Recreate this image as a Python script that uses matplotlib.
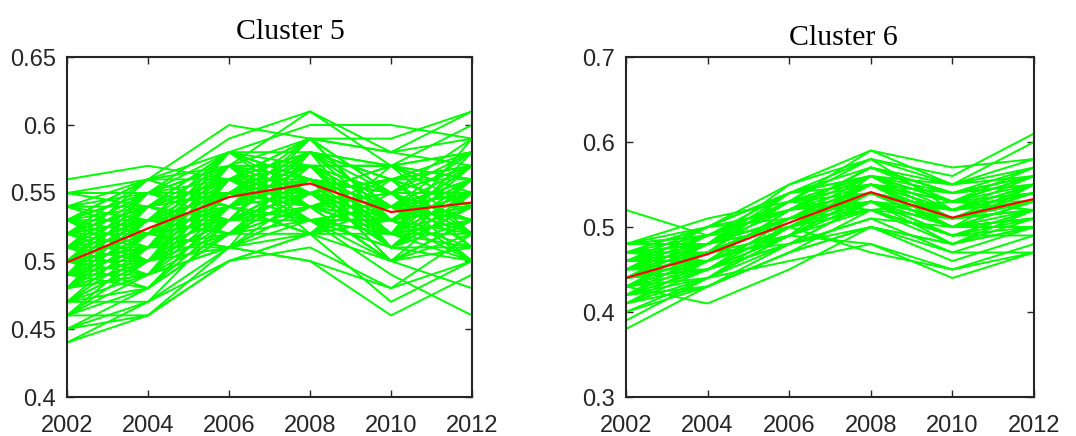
import numpy as np
import matplotlib
matplotlib.use("Agg")
import matplotlib.pyplot as plt

# years on the x axis
years = [2002, 2004, 2006, 2008, 2010, 2012]

# cluster 5 members (values in hundredths)
cluster5 = [
    [56, 57, 56, 58, 57, 58],
    [55, 56, 60, 59, 58, 59],
    [55, 55, 59, 61, 57, 60],
    [54, 56, 58, 60, 60, 59],
    [53, 55, 57, 61, 58, 61],
    [52, 54, 56, 59, 59, 61],
    [44, 46, 50, 52, 50, 48],
    [44, 47, 51, 53, 49, 46],
    [45, 46, 50, 52, 47, 50],
    [46, 46, 51, 50, 46, 49],
    [47, 47, 50, 51, 48, 52],
    [48, 49, 51, 50, 48, 50],
    [50, 53, 55, 56, 54, 55],
    [49, 52, 54, 57, 52, 53],
    [51, 50, 53, 55, 56, 54],
    [48, 51, 56, 54, 53, 57],
    [52, 55, 53, 58, 55, 52],
    [47, 50, 52, 55, 51, 56],
    [53, 51, 57, 53, 54, 50],
    [50, 54, 55, 59, 53, 55],
    [49, 49, 54, 52, 55, 53],
    [51, 53, 58, 56, 52, 56],
    [48, 52, 51, 54, 50, 51],
    [54, 52, 56, 57, 57, 55],
    [50, 50, 52, 53, 53, 57],
    [52, 54, 57, 55, 51, 54],
    [47, 51, 53, 56, 55, 52],
    [49, 55, 55, 54, 56, 58],
    [51, 49, 51, 58, 54, 53],
    [53, 56, 54, 52, 52, 56],
    [48, 50, 57, 57, 53, 50],
    [50, 51, 56, 55, 57, 55],
    [46, 49, 53, 54, 52, 54],
    [52, 53, 52, 56, 50, 52],
    [49, 54, 58, 58, 56, 57],
    [51, 52, 55, 53, 53, 51],
    [47, 48, 54, 55, 51, 53],
    [53, 55, 56, 59, 55, 58],
    [50, 52, 51, 52, 54, 55],
    [48, 53, 55, 57, 52, 50],
    [54, 54, 53, 55, 56, 57],
    [49, 51, 57, 54, 50, 53],
    [51, 55, 54, 56, 53, 56],
    [50, 49, 52, 57, 55, 51],
    [52, 50, 56, 53, 51, 55],
    [48, 54, 53, 58, 57, 54],
    [46, 50, 55, 56, 54, 52],
    [51, 51, 58, 55, 52, 57],
    [53, 53, 52, 54, 55, 53],
    [49, 50, 54, 59, 53, 56],
    [50, 55, 57, 52, 56, 54],
    [47, 52, 53, 53, 50, 55],
    [52, 51, 55, 58, 54, 58],
    [48, 49, 56, 56, 51, 50],
    [51, 54, 52, 57, 57, 52],
    [50, 53, 58, 54, 55, 57],
    [53, 50, 51, 55, 53, 55],
    [49, 53, 56, 53, 52, 53],
    [45, 48, 52, 55, 51, 51],
    [52, 56, 54, 57, 54, 54],
    [50, 48, 54, 58, 56, 56],
    [48, 51, 52, 52, 53, 54],
    [54, 53, 57, 56, 50, 53],
    [51, 50, 53, 59, 55, 55],
    [46, 51, 54, 53, 54, 56],
    [49, 52, 57, 55, 56, 51],
    [47, 49, 55, 57, 52, 52],
    [55, 54, 55, 55, 53, 57],
    [50, 51, 51, 54, 52, 59],
    [52, 52, 58, 56, 55, 50],
    [48, 54, 56, 58, 51, 54],
    [45, 47, 53, 54, 53, 55],
    [53, 52, 54, 52, 57, 58],
    [51, 56, 56, 55, 54, 53],
    [50, 50, 55, 57, 51, 56],
    [49, 48, 53, 56, 54, 57],
    [50, 52, 53, 55, 57, 56],
    [52, 55, 55, 54, 52, 55],
    [49, 51, 55, 58, 53, 52],
    [51, 53, 54, 57, 55, 57],
    [53, 54, 58, 56, 53, 55],
    [48, 50, 53, 55, 54, 53],
    [50, 54, 56, 55, 52, 58],
    [54, 55, 55, 58, 56, 54],
    [47, 50, 54, 53, 52, 55],
    [51, 52, 57, 57, 54, 56],
    [49, 53, 52, 55, 56, 52],
    [52, 54, 56, 54, 55, 59],
    [50, 51, 54, 56, 53, 54],
    [46, 48, 52, 54, 50, 53],
    [53, 56, 57, 59, 58, 57],
    [51, 53, 55, 53, 51, 54],
    [48, 52, 54, 56, 55, 55],
    [50, 55, 58, 57, 57, 56],
    [52, 53, 53, 56, 52, 51],
    [49, 50, 56, 54, 54, 56],
]
center5 = [0.499, 0.524, 0.547, 0.557, 0.536, 0.543]

# cluster 6 members (hundredths)
cluster6 = [
    [52, 49, 50, 54, 52, 53],
    [38, 43, 47, 50, 46, 49],
    [39, 44, 46, 48, 45, 48],
    [43, 41, 45, 50, 48, 50],
    [48, 51, 53, 56, 55, 56],
    [47, 50, 55, 59, 57, 58],
    [46, 48, 55, 58, 56, 61],
    [45, 49, 53, 59, 55, 60],
    [41, 46, 50, 47, 45, 47],
    [42, 45, 49, 48, 44, 47],
    [44, 45, 48, 50, 47, 47],
    [44, 47, 51, 54, 51, 53],
    [45, 48, 50, 55, 52, 55],
    [43, 46, 52, 53, 50, 52],
    [46, 47, 49, 56, 53, 54],
    [42, 45, 51, 52, 49, 51],
    [47, 49, 52, 57, 54, 57],
    [44, 46, 50, 55, 50, 50],
    [43, 48, 53, 54, 52, 56],
    [45, 47, 48, 53, 49, 52],
    [41, 44, 49, 52, 51, 54],
    [46, 49, 54, 56, 53, 53],
    [44, 48, 51, 53, 48, 51],
    [42, 46, 50, 54, 52, 55],
    [47, 48, 53, 55, 51, 52],
    [43, 45, 48, 51, 50, 53],
    [45, 46, 52, 57, 53, 56],
    [40, 44, 49, 53, 49, 52],
    [46, 50, 51, 55, 54, 55],
    [44, 47, 54, 58, 52, 54],
    [42, 43, 47, 52, 48, 50],
    [48, 49, 52, 54, 50, 51],
    [43, 47, 51, 56, 51, 55],
    [45, 48, 53, 52, 49, 49],
    [41, 45, 50, 55, 53, 57],
    [46, 46, 50, 53, 51, 53],
    [44, 49, 52, 57, 55, 58],
    [42, 44, 48, 51, 47, 50],
    [47, 47, 51, 54, 52, 54],
    [40, 43, 47, 50, 48, 52],
    [43, 46, 49, 54, 50, 53],
    [45, 50, 54, 55, 51, 52],
    [44, 45, 50, 52, 53, 56],
    [48, 48, 54, 57, 54, 55],
    [47, 48, 51, 55, 52, 53],
    [46, 47, 53, 56, 54, 56],
    [44, 46, 49, 53, 51, 52],
    [48, 49, 53, 58, 55, 57],
    [45, 47, 51, 54, 50, 51],
    [43, 44, 50, 53, 52, 54],
    [47, 50, 52, 56, 53, 55],
    [46, 48, 50, 52, 49, 50],
    [42, 47, 51, 55, 51, 53],
    [48, 50, 54, 56, 52, 54],
    [45, 45, 49, 54, 50, 55],
    [44, 48, 52, 55, 53, 52],
    [41, 43, 48, 53, 50, 51],
    [47, 46, 52, 57, 54, 56],
]
center6 = [0.440, 0.468, 0.505, 0.541, 0.511, 0.533]

titles = ["Cluster 5", "Cluster 6"]
ylims = [(0.4, 0.65), (0.3, 0.7)]
yticks = [[0.4, 0.45, 0.5, 0.55, 0.6, 0.65], [0.3, 0.4, 0.5, 0.6, 0.7]]
ylabels = [["0.4", "0.45", "0.5", "0.55", "0.6", "0.65"],
           ["0.3", "0.4", "0.5", "0.6", "0.7"]]

W, H = 1076, 436
fig = plt.figure(figsize=(W / 100, H / 100), dpi=100)

# axes boxes in pixels: left, right, top, bottom
boxes = [(67, 472, 57, 397), (626, 1034, 57, 397)]
# title centre x and baseline y in pixels
title_pos = [(290, 39), (843, 45)]

dark = "#262626"

for k, (members, center) in enumerate([(cluster5, center5), (cluster6, center6)]):
    l, r, t, b = boxes[k]
    ax = fig.add_axes([l / W, (H - b) / H, (r - l) / W, (b - t) / H])
    for row in members:
        ax.plot(years, np.array(row) / 100.0, color="#00ff00", lw=1.4)
    ax.plot(years, center, color="#ff0000", lw=1.6)

    ax.set_xlim(2002, 2012)
    ax.set_ylim(*ylims[k])
    ax.set_xticks(years)
    ax.set_yticks(yticks[k])
    ax.set_yticklabels(ylabels[k])
    ax.tick_params(direction="in", length=5, width=1, colors=dark,
                   top=True, right=True, labelsize=17)
    ax.tick_params(axis="x", pad=13)
    ax.tick_params(axis="y", pad=8)
    for tl in ax.get_xticklabels() + ax.get_yticklabels():
        tl.set_family("Liberation Sans")
    for s in ax.spines.values():
        s.set_color(dark)
        s.set_linewidth(1.5)

    tx, ty = title_pos[k]
    fig.text(tx / W, (H - ty) / H, titles[k], ha="center", va="baseline",
             fontsize=21.5, family="Liberation Serif", color="black")

fig.savefig("out.png", dpi=100)
